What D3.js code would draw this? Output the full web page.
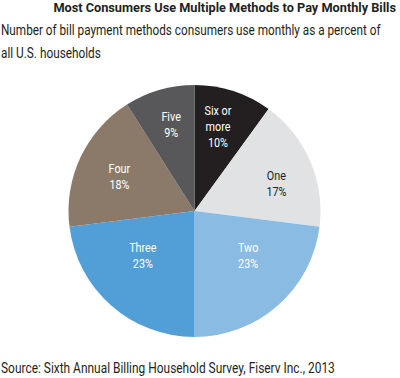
<!DOCTYPE html>
<html><head><meta charset="utf-8">
<script src="https://cdn.jsdelivr.net/npm/d3@7"></script>
<style>
html,body{margin:0;padding:0;background:#fff;}
text{font-family:Roboto,"Liberation Sans",sans-serif;}
</style></head>
<body>
<svg id="chart" width="400" height="378"></svg>
<script>
const categories = ["Six or more", "One", "Two", "Three", "Four", "Five"];
const labelLines = [["Six or", "more"], ["One"], ["Two"], ["Three"], ["Four"], ["Five"]];
const values = [10, 17, 23, 23, 18, 9];
const colors = ["#231f20", "#e1e2e3", "#89bbe3", "#519fd6", "#8b7a69", "#58585a"];
const labelColors = ["#fff", "#231f20", "#fff", "#fff", "#fff", "#fff"];

const svg = d3.select("#chart");
const cx = 194.5, cy = 211, R = 126;

// draw text at natural size, then squeeze horizontally to target width
function fitText(x, y, anchor, size, weight, len, str) {
  const t = svg.append("text").attr("text-anchor", anchor)
    .attr("font-size", size).attr("font-weight", weight).attr("fill", "#231f20").text(str);
  const w = t.node().getComputedTextLength();
  const s = Math.min(1, len / w);
  t.attr("transform", `translate(${x},${y}) scale(${s},1)`);
  return t;
}
fitText(396, 12, "end", 13.5, "bold", 343, "Most Consumers Use Multiple Methods to Pay Monthly Bills");
fitText(1, 35, "start", 14, "normal", 380, "Number of bill payment methods consumers use monthly as a percent of");
fitText(1, 58, "start", 14, "normal", 100, "all U.S. households");
fitText(1, 373, "start", 14, "normal", 334, "Source: Sixth Annual Billing Household Survey, Fiserv Inc., 2013");

const data = categories.map((c, i) => ({cat: c, value: values[i], i}));
const pie = d3.pie().value(d => d.value).sort(null);
const arcs = pie(data);
const arc = d3.arc().innerRadius(0).outerRadius(R);

const g = svg.append("g").attr("transform", `translate(${cx},${cy})`);
g.selectAll("path").data(arcs).join("path")
  .attr("d", arc).attr("fill", d => colors[d.data.i]);

// label placement radius and nudges (layout, not data)
const labelR = {"Six or more": 89, "One": 86, "Two": 69, "Three": 69, "Four": 83, "Five": 91};
const nudge = {"Six or more": [-4, 0], "One": [3, 6], "Two": [8, -8], "Three": [-6, -8], "Four": [0, 0], "Five": [2, 0]};

arcs.forEach(d => {
  const a = (d.startAngle + d.endAngle) / 2;
  const r = labelR[d.data.cat];
  const n = nudge[d.data.cat];
  const x = Math.sin(a) * r + n[0];
  const y = -Math.cos(a) * r + n[1];
  const lines = labelLines[d.data.i].concat([d.data.value + "%"]);
  const lh = 16;
  const t = g.append("text").attr("text-anchor", "middle").attr("font-size", 13.5)
    .attr("transform", `translate(${x},${y}) scale(0.8,1)`)
    .attr("fill", labelColors[d.data.i]);
  lines.forEach((l, k) => {
    t.append("tspan").attr("x", 0)
      .attr("y", (k - (lines.length - 1) / 2) * lh + 5).text(l);
  });
});
</script>
</body></html>
